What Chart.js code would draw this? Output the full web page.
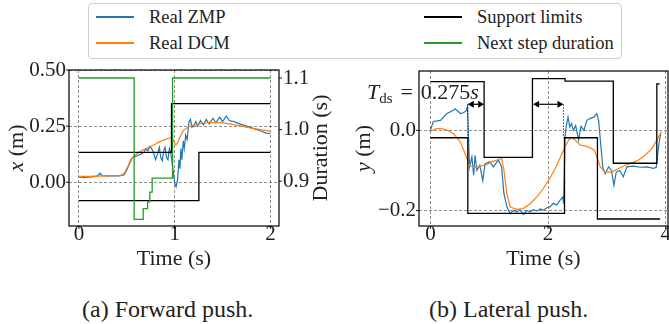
<!DOCTYPE html>
<html>
<head>
<meta charset="utf-8">
<script src="https://cdn.jsdelivr.net/npm/chart.js@4.4.0/dist/chart.umd.min.js"></script>
<style>
  html, body { margin: 0; padding: 0; background: #fff; width: 669px; height: 324px; overflow: hidden; }
  #page { position: relative; width: 669px; height: 324px; overflow: hidden; color: #222; }
  .plot { position: absolute; top: 62px; }
  #legend { position: absolute; left: 88px; top: 3px; width: 534px; height: 56px; box-sizing: border-box;
            border: 1px solid #cfcfcf; border-radius: 4px; background: #fff; z-index: 2; }
  .lg-item { position: absolute; height: 22px; display: flex; align-items: center; white-space: nowrap; font-size: 18.5px; }
  .lg-swatch { display: inline-block; width: 38px; height: 0; border-top: 2px solid; margin-right: 15px; }
  .cap { position: absolute; top: 295px; font-size: 24px; line-height: 28px; white-space: nowrap; }
</style>
</head>
<body>
<div id="page">
  <div id="legend"></div>
  <canvas id="fwd" class="plot" width="345" height="212" style="left:0px"></canvas>
  <canvas id="lat" class="plot" width="355" height="212" style="left:345px"></canvas>
  <div class="cap" style="left:82px">(a) Forward push.</div>
  <div class="cap" style="left:429px">(b) Lateral push.</div>
</div>
<script>
// ---------- Forward push: x-direction, [time s, value m] ----------
const FWD_ZMP = [
  [0.00,0.024],[0.05,0.022],[0.10,0.023],[0.15,0.025],[0.19,0.027],[0.22,0.040],[0.24,0.030],
  [0.28,0.028],[0.35,0.029],[0.42,0.028],[0.47,0.032],[0.50,0.055],[0.53,0.085],[0.56,0.110],
  [0.59,0.115],[0.62,0.120],[0.65,0.125],[0.68,0.135],[0.70,0.150],[0.72,0.140],[0.74,0.160],
  [0.76,0.150],[0.78,0.130],[0.80,0.100],[0.82,0.125],[0.84,0.155],[0.855,0.110],[0.87,0.095],
  [0.885,0.140],[0.90,0.155],[0.915,0.110],[0.93,0.100],[0.945,0.150],[0.96,0.130],[0.975,0.080],
  [0.99,0.030],[1.00,-0.005],[1.015,-0.020],[1.03,0.010],[1.045,0.100],[1.055,0.060],[1.065,0.150],
  [1.075,0.100],[1.09,0.185],[1.10,0.150],[1.115,0.210],[1.13,0.190],[1.15,0.270],[1.165,0.280],
  [1.18,0.245],[1.20,0.250],[1.22,0.270],[1.24,0.250],[1.27,0.275],[1.30,0.255],[1.33,0.280],
  [1.36,0.260],[1.40,0.285],[1.43,0.265],[1.47,0.290],[1.50,0.270],[1.54,0.295],[1.57,0.275],
  [1.62,0.270],[1.68,0.260],[1.75,0.250],[1.82,0.240],[1.90,0.228],[1.95,0.220],[2.00,0.216]
];
const FWD_DCM = [
  [0.00,0.026],[0.10,0.026],[0.20,0.027],[0.30,0.028],[0.40,0.029],[0.45,0.033],[0.48,0.045],
  [0.51,0.070],[0.54,0.100],[0.57,0.115],[0.60,0.125],[0.65,0.140],[0.70,0.150],[0.75,0.160],
  [0.80,0.170],[0.85,0.182],[0.90,0.190],[0.95,0.197],[0.97,0.199],[0.99,0.185],[1.01,0.166],
  [1.03,0.175],[1.06,0.205],[1.09,0.230],[1.13,0.243],[1.19,0.254],[1.25,0.260],[1.32,0.265],
  [1.40,0.266],[1.50,0.264],[1.60,0.258],[1.70,0.250],[1.80,0.241],[1.90,0.234],[2.00,0.228]
];
const FWD_SUPPORT_HI = [[0.00,0.133],[0.967,0.350],[2.00,0.350]];
const FWD_SUPPORT_LO = [[0.00,-0.082],[1.253,0.133],[2.00,0.133]];
const FWD_DURATION = [
  [0.00,1.100],[0.577,0.826],[0.671,0.847],[0.717,0.860],[0.740,0.879],[0.765,0.906],[0.978,1.100],[2.00,1.100]
];

// ---------- Lateral push: y-direction, [time s, value m] ----------
const LAT_ZMP = [
  [0.00,0.000],[0.05,0.022],[0.17,0.025],[0.28,0.042],[0.39,0.050],[0.42,0.054],[0.51,0.042],
  [0.56,0.044],[0.61,0.049],[0.63,0.060],[0.665,-0.091],[0.705,-0.066],[0.735,-0.112],[0.76,-0.062],
  [0.79,-0.100],[0.84,-0.087],[0.89,-0.125],[0.93,-0.083],[1.01,-0.078],[1.07,-0.091],[1.156,-0.074],
  [1.21,-0.091],[1.25,-0.158],[1.30,-0.190],[1.355,-0.208],[1.41,-0.200],[1.47,-0.204],[1.52,-0.198],
  [1.58,-0.210],[1.64,-0.200],[1.695,-0.204],[1.75,-0.198],[1.81,-0.201],[1.87,-0.196],[1.92,-0.199],
  [1.98,-0.193],[2.03,-0.191],[2.09,-0.182],[2.15,-0.186],[2.205,-0.174],[2.25,-0.166],[2.265,-0.183],
  [2.29,-0.016],[2.31,0.010],[2.34,0.033],[2.37,0.008],[2.40,0.017],[2.43,0.000],[2.47,0.012],
  [2.52,-0.024],[2.56,0.010],[2.61,0.000],[2.66,0.025],[2.72,0.030],[2.78,0.033],[2.83,0.042],
  [2.86,0.025],[2.90,-0.041],[2.93,-0.091],[2.97,-0.108],[3.03,-0.091],[3.08,-0.100],[3.12,-0.137],
  [3.16,-0.104],[3.22,-0.100],[3.28,-0.116],[3.34,-0.091],[3.45,-0.089],[3.57,-0.092],[3.68,-0.091],
  [3.79,-0.095],[3.84,-0.092],[3.86,-0.066],[3.88,-0.041],[3.90,-0.020],[3.92,-0.008]
];
const LAT_DCM = [
  [0.00,-0.003],[0.08,0.003],[0.17,0.005],[0.28,0.001],[0.39,-0.008],[0.51,-0.029],[0.59,-0.058],
  [0.665,-0.087],[0.735,-0.093],[0.84,-0.090],[0.96,-0.085],[1.05,-0.078],[1.13,-0.074],[1.21,-0.070],
  [1.25,-0.099],[1.30,-0.158],[1.355,-0.191],[1.47,-0.197],[1.58,-0.195],[1.695,-0.183],[1.81,-0.166],
  [1.92,-0.145],[2.03,-0.120],[2.15,-0.087],[2.26,-0.050],[2.35,-0.024],[2.40,-0.018],[2.46,-0.024],
  [2.55,-0.037],[2.66,-0.040],[2.78,-0.048],[2.83,-0.066],[2.89,-0.091],[2.97,-0.104],[3.08,-0.104],
  [3.20,-0.095],[3.31,-0.087],[3.43,-0.081],[3.54,-0.074],[3.65,-0.062],[3.77,-0.045],[3.85,-0.024],
  [3.93,-0.003]
];
const LAT_SUPPORT_A = [[0.00,0.1215],[0.913,-0.0675],[1.735,0.129],[2.29,0.123],[3.11,-0.082],[3.85,0.116],[3.90,0.116]];
const LAT_SUPPORT_B = [[0.00,-0.0185],[0.636,-0.207],[2.28,-0.0185],[2.84,-0.221],[3.906,-0.221]];

// Double-support interval markers: [t start, t end, y]
const DS_ARROWS = [[0.636, 0.913, 0.065], [1.747, 2.262, 0.065]];
// Dotted guides: [t, y top, y bottom]
const DS_GUIDES = [[0.636, 0.065, -0.0185], [2.262, 0.065, -0.0185]];
const DS_LABEL = { t: -1.08, y: 0.077, value: '0.275' };

// ---------- Axes ----------
const FWD_X_TICKS = [0, 1, 2],        FWD_X_LABELS = ['0', '1', '2'];
const FWD_Y_TICKS = [0, 0.25, 0.5],   FWD_Y_LABELS = ['0.00', '0.25', '0.50'];
const DUR_TICKS   = [0.9, 1.0, 1.1],  DUR_LABELS   = ['0.9', '1.0', '1.1'];
const LAT_X_TICKS = [0, 2, 4],        LAT_X_LABELS = ['0', '2', '4'];
const LAT_Y_TICKS = [-0.2, 0],        LAT_Y_LABELS = ['\u22120.2', '0.0'];

const SERIES = {
  zmp:      { label: 'Real ZMP',           color: '#1f77b4' },
  dcm:      { label: 'Real DCM',           color: '#ff7f0e' },
  support:  { label: 'Support limits',     color: '#000000' },
  duration: { label: 'Next step duration', color: '#259a25' }
};
const LEGEND_ORDER = ['zmp', 'dcm', 'support', 'duration'];

const FONT = "'Liberation Serif', 'Times New Roman', serif";
const INK = '#222';

// HTML text uses the same serif face as the canvas text
document.getElementById('page').style.fontFamily = FONT;
document.querySelectorAll('.cap').forEach(el => { el.style.fontFamily = FONT; });

// ---------- Legend (two columns, column-major) ----------
(function buildLegend() {
  const box = document.getElementById('legend');
  const colX = [7, 335], rowY = [2, 28];
  LEGEND_ORDER.forEach((key, i) => {
    const item = document.createElement('div');
    item.className = 'lg-item';
    item.style.fontFamily = FONT;
    item.style.left = colX[Math.floor(i / 2)] + 'px';
    item.style.top = rowY[i % 2] + 'px';
    const sw = document.createElement('span');
    sw.className = 'lg-swatch';
    sw.style.borderTopColor = SERIES[key].color;
    item.appendChild(sw);
    item.appendChild(document.createTextNode(SERIES[key].label));
    box.appendChild(item);
  });
})();

// ---------- Helpers ----------
const pts = pairs => pairs.map(([x, y]) => ({ x, y }));
const fixedTicks = values => scale => { scale.ticks = values.map(v => ({ value: v })); };
const fixedSize = (prop, size) => scale => {
  scale[prop] = size;
  scale.paddingTop = 0; scale.paddingBottom = 0; scale.paddingLeft = 0; scale.paddingRight = 0;
};

function line(key, data, extra) {
  return Object.assign({
    label: SERIES[key].label, data: pts(data), borderColor: SERIES[key].color,
    borderWidth: 1.2, pointRadius: 0, fill: false, tension: 0
  }, extra || {});
}

function xScale(min, max, ticks, labels) {
  return {
    type: 'linear', position: 'bottom', min, max,
    afterBuildTicks: fixedTicks(ticks),
    afterFit: fixedSize('height', 48),
    ticks: { callback: (v, i) => labels[i], font: { family: FONT, size: 21, lineHeight: 1 }, color: INK,
             padding: -2, maxRotation: 0, autoSkip: false },
    grid: { color: 'rgba(0,0,0,0.55)', lineWidth: 0.8, drawTicks: false },
    border: { display: false, dash: [3, 2] },
    title: { display: true, text: 'Time (s)', font: { family: FONT, size: 22, lineHeight: 1 }, color: INK,
             padding: { top: 0, bottom: 4 } }
  };
}

function yScale(position, min, max, ticks, labels, width, showGrid) {
  return {
    type: 'linear', position, min, max,
    afterBuildTicks: fixedTicks(ticks),
    afterFit: fixedSize('width', width),
    ticks: { callback: (v, i) => labels[i], font: { family: FONT, size: 21, lineHeight: 1 }, color: INK,
             padding: position === 'left' ? 3 : 4, autoSkip: false },
    grid: { color: 'rgba(0,0,0,0.55)', lineWidth: 0.8, drawTicks: false, drawOnChartArea: showGrid },
    border: { display: false, dash: [3, 2] },
    title: { display: false }
  };
}

// Axes frame and short outward tick marks
const framePlugin = {
  id: 'frame',
  afterDatasetsDraw(chart) {
    const { ctx, chartArea: a } = chart;
    ctx.save();
    ctx.strokeStyle = '#000';
    ctx.lineWidth = 1.2;
    ctx.strokeRect(a.left, a.top, a.right - a.left, a.bottom - a.top);
    ctx.lineWidth = 0.9;
    Object.values(chart.scales).forEach(s => {
      s.ticks.forEach(t => {
        const p = s.getPixelForValue(t.value);
        ctx.beginPath();
        if (s.isHorizontal()) { ctx.moveTo(p, a.bottom); ctx.lineTo(p, a.bottom + 3); }
        else if (s.position === 'left') { ctx.moveTo(a.left, p); ctx.lineTo(a.left - 3, p); }
        else { ctx.moveTo(a.right, p); ctx.lineTo(a.right + 3, p); }
        ctx.stroke();
      });
    });
    ctx.restore();
  }
};

// Vertical axis titles, mixing italic symbols with upright units
const yTitlePlugin = {
  id: 'yTitles',
  afterDraw(chart, args, opts) {
    const { ctx, chartArea: a } = chart;
    const cy = (a.top + a.bottom) / 2;
    (opts.items || []).forEach(item => {
      ctx.save();
      ctx.translate(item.x, cy);
      ctx.rotate(-Math.PI / 2);
      ctx.fillStyle = INK;
      ctx.textBaseline = 'middle';
      ctx.textAlign = 'left';
      const fonts = item.parts.map(p => (p.italic ? 'italic ' : '') + item.size + 'px ' + FONT);
      const widths = item.parts.map((p, i) => { ctx.font = fonts[i]; return ctx.measureText(p.text).width; });
      let x = -widths.reduce((s, w) => s + w, 0) / 2;
      item.parts.forEach((p, i) => { ctx.font = fonts[i]; ctx.fillText(p.text, x, 0); x += widths[i]; });
      ctx.restore();
    });
  }
};

// Double-support duration markers and label
const dsPlugin = {
  id: 'dsMarks',
  afterDatasetsDraw(chart) {
    const { ctx } = chart;
    const xs = chart.scales.x, ys = chart.scales.y;
    ctx.save();
    ctx.strokeStyle = '#000';
    ctx.fillStyle = '#000';
    // dotted guides
    ctx.lineWidth = 0.8;
    ctx.setLineDash([1.5, 1.5]);
    DS_GUIDES.forEach(([t, y0, y1]) => {
      const px = xs.getPixelForValue(t);
      ctx.beginPath();
      ctx.moveTo(px, ys.getPixelForValue(y0));
      ctx.lineTo(px, ys.getPixelForValue(y1));
      ctx.stroke();
    });
    ctx.setLineDash([]);
    // double-headed arrows
    ctx.lineWidth = 1.2;
    DS_ARROWS.forEach(([t0, t1, y]) => {
      const x0 = xs.getPixelForValue(t0), x1 = xs.getPixelForValue(t1), py = ys.getPixelForValue(y);
      const hl = 6, hw = 3.5;
      ctx.beginPath(); ctx.moveTo(x0 + hl, py); ctx.lineTo(x1 - hl, py); ctx.stroke();
      ctx.beginPath(); ctx.moveTo(x0, py); ctx.lineTo(x0 + hl, py - hw); ctx.lineTo(x0 + hl, py + hw); ctx.closePath(); ctx.fill();
      ctx.beginPath(); ctx.moveTo(x1, py); ctx.lineTo(x1 - hl, py - hw); ctx.lineTo(x1 - hl, py + hw); ctx.closePath(); ctx.fill();
    });
    // label: T_ds = 0.275s
    let x = xs.getPixelForValue(DS_LABEL.t);
    const by = ys.getPixelForValue(DS_LABEL.y);
    ctx.fillStyle = INK;
    ctx.textBaseline = 'alphabetic';
    ctx.textAlign = 'left';
    const draw = (text, font, dy, gapAfter) => {
      ctx.font = font;
      ctx.fillText(text, x, by + dy);
      x += ctx.measureText(text).width + gapAfter;
    };
    draw('T', 'italic 22px ' + FONT, 0, 0);
    draw('ds', '15px ' + FONT, 4, 8);
    draw('=', '22px ' + FONT, 0, 8);
    draw(DS_LABEL.value, '22px ' + FONT, 0, 0);
    draw('s', 'italic 22px ' + FONT, 0, 0);
    ctx.restore();
  }
};

const baseOptions = {
  responsive: false, animation: false, devicePixelRatio: 1, events: [],
  plugins: { legend: { display: false }, tooltip: { enabled: false } }
};

// ---------- (a) Forward push ----------
new Chart(document.getElementById('fwd'), {
  type: 'line',
  data: {
    datasets: [
      line('duration', FWD_DURATION, { yAxisID: 'y1', stepped: true, borderWidth: 1.3 }),
      line('support', FWD_SUPPORT_HI, { yAxisID: 'y', stepped: true, borderWidth: 1.3 }),
      line('support', FWD_SUPPORT_LO, { yAxisID: 'y', stepped: true, borderWidth: 1.3 }),
      line('dcm', FWD_DCM, { yAxisID: 'y' }),
      line('zmp', FWD_ZMP, { yAxisID: 'y' })
    ]
  },
  options: Object.assign({}, baseOptions, {
    layout: { padding: { top: 8, left: 0, right: 0, bottom: 0 }, autoPadding: false },
    scales: {
      x: xScale(-0.104, 2.09, FWD_X_TICKS, FWD_X_LABELS),
      y: yScale('left', -0.195, 0.5, FWD_Y_TICKS, FWD_Y_LABELS, 69, true),
      y1: yScale('right', 0.8132, 1.1155, DUR_TICKS, DUR_LABELS, 66, false)
    },
    plugins: Object.assign({}, baseOptions.plugins, {
      yTitles: { items: [
        { x: 17.5, size: 22, parts: [{ text: 'x', italic: true }, { text: ' (m)' }] },
        { x: 321.5, size: 22, parts: [{ text: 'Duration (s)' }] }
      ] }
    })
  }),
  plugins: [framePlugin, yTitlePlugin]
});

// ---------- (b) Lateral push ----------
new Chart(document.getElementById('lat'), {
  type: 'line',
  data: {
    datasets: [
      line('support', LAT_SUPPORT_A, { stepped: true, borderWidth: 1.3 }),
      line('support', LAT_SUPPORT_B, { stepped: true, borderWidth: 1.3 }),
      line('dcm', LAT_DCM),
      line('zmp', LAT_ZMP)
    ]
  },
  options: Object.assign({}, baseOptions, {
    layout: { padding: { top: 9, left: 0, right: 32, bottom: 0 }, autoPadding: false },
    scales: {
      x: xScale(-0.194, 4.04, LAT_X_TICKS, LAT_X_LABELS),
      y: yScale('left', -0.2385, 0.148, LAT_Y_TICKS, LAT_Y_LABELS, 74, true)
    },
    plugins: Object.assign({}, baseOptions.plugins, {
      yTitles: { items: [
        { x: 19, size: 22, parts: [{ text: 'y', italic: true }, { text: ' (m)' }] }
      ] }
    })
  }),
  plugins: [framePlugin, yTitlePlugin, dsPlugin]
});
</script>
</body>
</html>
